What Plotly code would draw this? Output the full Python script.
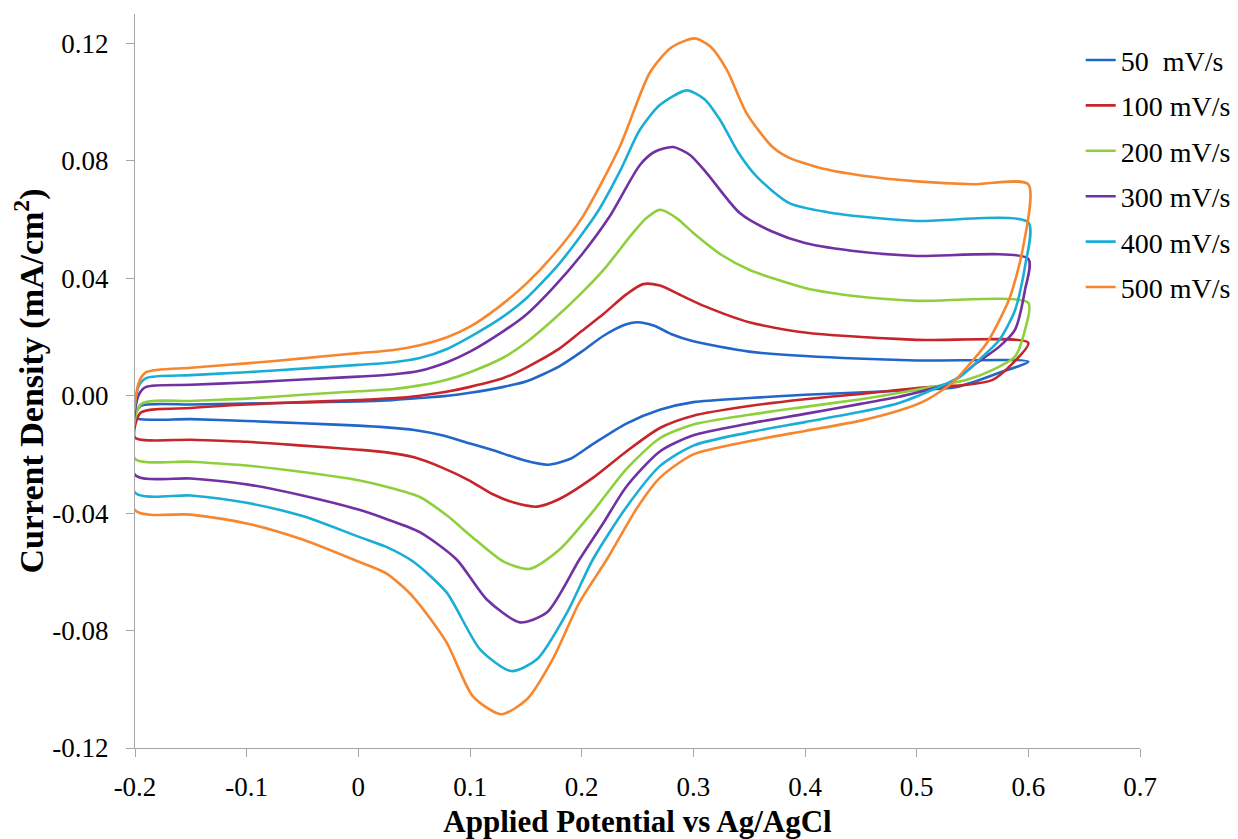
import plotly.graph_objects as go

# Potential (V vs Ag/AgCl) and current density (mA/cm^2).
# Each series: forward (anodic) sweep from -0.2 to 0.6, then reverse sweep back to -0.2.
x_50 = [-0.2, -0.195, -0.15, -0.1, -0.05, 0.0, 0.03, 0.055, 0.08, 0.1, 0.13, 0.15, 0.18, 0.2, 0.22, 0.24, 0.25, 0.265, 0.28, 0.3, 0.35, 0.4, 0.5, 0.6,
        0.574, 0.536, 0.485, 0.4, 0.35, 0.3, 0.27, 0.24, 0.21, 0.19, 0.17, 0.15, 0.12, 0.1, 0.075, 0.05, 0.025, 0.0, -0.05, -0.1, -0.15, -0.2]
y_50 = [-0.0075, -0.0035, -0.003, -0.0027, -0.0023, -0.002, -0.0015, -0.0008, 0.0, 0.001, 0.003, 0.0048, 0.01, 0.015, 0.0205, 0.0243, 0.025, 0.0238, 0.021, 0.0185, 0.015, 0.0135, 0.012, 0.0116,
        0.0078, 0.003, 0.0017, 0.0003, -0.0008, -0.0022, -0.0048, -0.0095, -0.0165, -0.0215, -0.0235, -0.0222, -0.0185, -0.0163, -0.0135, -0.0117, -0.0108, -0.0102, -0.0094, -0.0086, -0.008, -0.0075]

x_100 = [-0.2, -0.195, -0.15, -0.1, -0.05, 0.0, 0.03, 0.055, 0.08, 0.1, 0.13, 0.15, 0.18, 0.2, 0.22, 0.24, 0.255, 0.27, 0.29, 0.31, 0.35, 0.4, 0.5, 0.6,
         0.583, 0.568, 0.545, 0.514, 0.485, 0.45, 0.4, 0.35, 0.3, 0.27, 0.24, 0.21, 0.18, 0.16, 0.14, 0.12, 0.1, 0.075, 0.05, 0.025, 0.0, -0.05, -0.1, -0.15, -0.2]
y_100 = [-0.0143, -0.0058, -0.0042, -0.003, -0.0022, -0.0015, -0.0009, 0.0, 0.0014, 0.003, 0.006, 0.0095, 0.016, 0.022, 0.028, 0.0345, 0.038, 0.0375, 0.034, 0.0305, 0.025, 0.0215, 0.019, 0.018,
         0.0099, 0.0054, 0.0037, 0.003, 0.002, 0.0006, -0.0012, -0.0035, -0.0068, -0.011, -0.019, -0.028, -0.0352, -0.0378, -0.0365, -0.0335, -0.029, -0.0245, -0.021, -0.0193, -0.0184, -0.017, -0.0157, -0.015, -0.0143]

x_200 = [-0.2, -0.195, -0.15, -0.1, -0.05, 0.0, 0.03, 0.055, 0.08, 0.1, 0.13, 0.15, 0.175, 0.2, 0.22, 0.245, 0.258, 0.27, 0.285, 0.3, 0.325, 0.35, 0.4, 0.45, 0.5, 0.6,
         0.597, 0.588, 0.568, 0.545, 0.514, 0.485, 0.45, 0.4, 0.35, 0.3, 0.27, 0.24, 0.21, 0.18, 0.1536, 0.13, 0.1, 0.08, 0.055, 0.025, 0.0, -0.05, -0.1, -0.15, -0.2]
y_200 = [-0.0215, -0.003, -0.0018, -0.001, 0.0003, 0.0015, 0.0022, 0.0035, 0.0055, 0.008, 0.013, 0.018, 0.026, 0.035, 0.043, 0.055, 0.0605, 0.0633, 0.0605, 0.0554, 0.048, 0.0429, 0.0367, 0.0337, 0.0323, 0.0316,
         0.0224, 0.0133, 0.0088, 0.0054, 0.003, 0.001, -0.0012, -0.0038, -0.0065, -0.0098, -0.0145, -0.025, -0.0395, -0.0525, -0.059, -0.0565, -0.0475, -0.041, -0.0345, -0.031, -0.0288, -0.026, -0.0238, -0.0225, -0.0215]

x_300 = [-0.2, -0.197, -0.19, -0.15, -0.1, -0.05, 0.0, 0.03, 0.055, 0.08, 0.1, 0.13, 0.15, 0.175, 0.2, 0.225, 0.252, 0.265, 0.2817, 0.297, 0.312, 0.3416, 0.37, 0.4, 0.45, 0.5, 0.6,
         0.597, 0.588, 0.574, 0.554, 0.53, 0.485, 0.45, 0.4, 0.35, 0.3, 0.27, 0.24, 0.22, 0.198, 0.169, 0.1447, 0.115, 0.088, 0.055, 0.025, 0.0, -0.05, -0.1, -0.15, -0.2]
y_300 = [-0.027, 0.0, 0.003, 0.0037, 0.0045, 0.0055, 0.0065, 0.0072, 0.0085, 0.0115, 0.015, 0.022, 0.0275, 0.037, 0.048, 0.061, 0.0785, 0.083, 0.0847, 0.082, 0.0758, 0.0622, 0.056, 0.052, 0.049, 0.0476, 0.0466,
         0.036, 0.0224, 0.0167, 0.0112, 0.0044, -0.0003, -0.0028, -0.0062, -0.0095, -0.0135, -0.019, -0.031, -0.043, -0.0558, -0.0738, -0.0772, -0.0694, -0.0558, -0.0465, -0.042, -0.0388, -0.034, -0.0302, -0.0282, -0.027]

x_400 = [-0.2, -0.197, -0.19, -0.15, -0.1, -0.05, 0.0, 0.03, 0.055, 0.08, 0.1, 0.13, 0.15, 0.18, 0.2136, 0.235, 0.252, 0.27, 0.294, 0.31, 0.324, 0.34, 0.357, 0.386, 0.42, 0.45, 0.5, 0.6,
         0.597, 0.588, 0.574, 0.559, 0.539, 0.514, 0.485, 0.45, 0.4, 0.35, 0.3, 0.27, 0.24, 0.21, 0.187, 0.16, 0.137, 0.109, 0.079, 0.049, 0.025, 0.0, -0.05, -0.1, -0.15, -0.2]
y_400 = [-0.033, 0.003, 0.006, 0.007, 0.008, 0.0092, 0.0105, 0.0113, 0.0128, 0.016, 0.02, 0.027, 0.033, 0.045, 0.0622, 0.077, 0.0905, 0.099, 0.104, 0.101, 0.0939, 0.083, 0.0745, 0.0656, 0.0625, 0.061, 0.0595, 0.059,
         0.044, 0.029, 0.019, 0.0133, 0.0065, 0.002, -0.0024, -0.0055, -0.009, -0.0125, -0.017, -0.024, -0.038, -0.0558, -0.0738, -0.0898, -0.0938, -0.0864, -0.067, -0.0565, -0.0515, -0.048, -0.041, -0.0365, -0.034, -0.033]

x_500 = [-0.2, -0.197, -0.19, -0.15, -0.1, -0.05, 0.0, 0.03, 0.055, 0.08, 0.1, 0.125, 0.15, 0.175, 0.201, 0.234, 0.261, 0.28, 0.301, 0.315, 0.33, 0.348, 0.371, 0.386, 0.42, 0.45, 0.5, 0.55, 0.6,
         0.595, 0.583, 0.563, 0.548, 0.532, 0.509, 0.485, 0.45, 0.4, 0.35, 0.3, 0.27, 0.25, 0.2225, 0.198, 0.174, 0.151, 0.128, 0.1026, 0.079, 0.049, 0.025, 0.0, -0.05, -0.1, -0.15, -0.2]
y_500 = [-0.039, 0.004, 0.008, 0.0095, 0.011, 0.0127, 0.0145, 0.0155, 0.0172, 0.02, 0.0235, 0.03, 0.038, 0.048, 0.061, 0.0847, 0.11, 0.1185, 0.1217, 0.119, 0.111, 0.096, 0.0847, 0.081, 0.077, 0.075, 0.073, 0.072, 0.072,
         0.05, 0.033, 0.018, 0.011, 0.0044, -0.0014, -0.005, -0.0085, -0.012, -0.0155, -0.02, -0.028, -0.038, -0.0558, -0.0704, -0.0898, -0.1034, -0.1085, -0.1024, -0.084, -0.0685, -0.0605, -0.0565, -0.049, -0.0435, -0.0405, -0.039]

series_names = ["50  mV/s", "100 mV/s", "200 mV/s", "300 mV/s", "400 mV/s", "500 mV/s"]
series_x = [x_50, x_100, x_200, x_300, x_400, x_500]
series_y = [y_50, y_100, y_200, y_300, y_400, y_500]
colors = ["#2166C9", "#C6262B", "#8ED03C", "#7131A3", "#1AAED6", "#F7872E"]

x_ticks = [-0.2, -0.1, 0, 0.1, 0.2, 0.3, 0.4, 0.5, 0.6, 0.7]
x_tick_text = ["-0.2", "-0.1", "0", "0.1", "0.2", "0.3", "0.4", "0.5", "0.6", "0.7"]
y_ticks = [-0.12, -0.08, -0.04, 0.0, 0.04, 0.08, 0.12]
y_tick_text = ["-0.12", "-0.08", "-0.04", "0.00", "0.04", "0.08", "0.12"]

FONT = "Liberation Serif, Times New Roman, serif"

fig = go.Figure()
for i, (name, xs, ys, c) in enumerate(zip(series_names, series_x, series_y, colors)):
    fig.add_trace(go.Scatter(
        x=xs, y=ys, mode="lines", name=name,
        line=dict(color=c, width=2.6, shape="spline", smoothing=0.7),
        legendgroup=f"g{i}",
    ))

axis_common = dict(
    showgrid=False, zeroline=False, showline=True, linecolor="#A6A6A6", linewidth=1.3,
    ticks="outside", ticklen=8, tickcolor="#A6A6A6", tickwidth=1.3,
    tickfont=dict(family=FONT, size=27, color="#000000"),
)

fig.update_layout(
    width=1238, height=839,
    margin=dict(l=127, r=106, t=6, b=99, autoexpand=False),
    paper_bgcolor="white", plot_bgcolor="white",
    font=dict(family=FONT, color="#000000"),
    xaxis=dict(range=[-0.2, 0.7], tickvals=x_ticks, ticktext=x_tick_text,
               title=dict(text="Applied Potential vs Ag/AgCl", standoff=9,
                          font=dict(family=FONT, size=31, color="#000000", weight="bold")),
               ticklabelstandoff=6, **axis_common),
    yaxis=dict(range=[-0.12, 0.13], tickvals=y_ticks, ticktext=y_tick_text,
               title=dict(text="Current Density (mA/cm<sup>2</sup>)", standoff=10,
                          font=dict(family=FONT, size=34, color="#000000", weight="bold")),
               ticklabelstandoff=12, **axis_common),
    legend=dict(x=0.941, y=0.971, xanchor="left", yanchor="top",
                font=dict(family=FONT, size=28, color="#000000"),
                bgcolor="rgba(0,0,0,0)", tracegroupgap=6, itemwidth=30),
    showlegend=True,
)

fig.write_html("out.html")
